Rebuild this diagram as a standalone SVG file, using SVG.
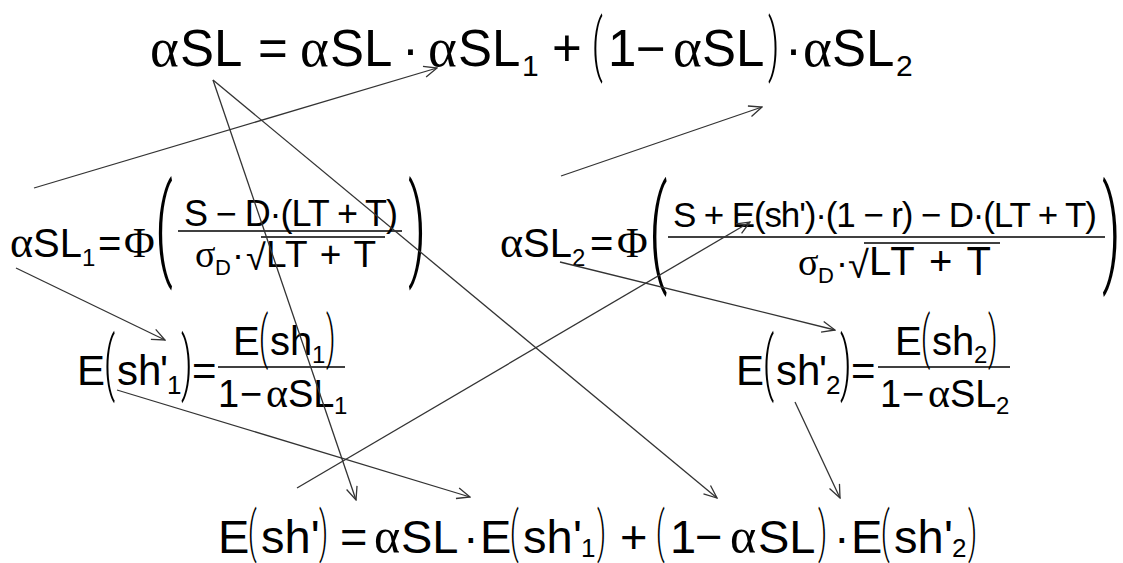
<svg xmlns="http://www.w3.org/2000/svg" width="1123" height="563" viewBox="0 0 1123 563">
<style>
text{font-family:"Liberation Sans",Arial,sans-serif;fill:#000}
.g{font-family:"Liberation Serif","Times New Roman",serif}
.p{font-family:Roboto,"Liberation Sans",Arial,sans-serif;font-weight:300}
.ln{stroke:#333;stroke-width:1.3;fill:none;marker-end:url(#ah)}
.bar{stroke:#000;stroke-width:1.6}
.ov{stroke:#000;stroke-width:1.3}
</style>
<defs>
<marker id="ah" markerWidth="15" markerHeight="13" refX="14" refY="6.5" orient="auto" markerUnits="userSpaceOnUse">
<path d="M1,1 L14,6.5 L1,12" fill="none" stroke="#333" stroke-width="1.3"/>
</marker>
</defs>
<rect width="1123" height="563" fill="#fff"/>

<g id="eq-top" font-size="51">
<text class="g" x="150" y="66" font-size="55">α</text><text x="180" y="66">SL</text>
<text x="258" y="66">=</text>
<text class="g" x="300" y="66" font-size="55">α</text><text x="330" y="66">SL</text>
<text x="402" y="66">·</text>
<text class="g" x="428" y="66" font-size="55">α</text><text x="458" y="66">SL</text><text x="522" y="76" font-size="30">1</text>
<text x="552" y="66">+</text>
<text class="p" transform="translate(592,68) scale(0.5,1)" font-size="68">(</text>
<text x="608" y="66">1</text><text x="636" y="66">−</text>
<text class="g" x="673" y="66" font-size="55">α</text><text x="702" y="66">SL</text>
<text class="p" transform="translate(768,68) scale(0.5,1)" font-size="68">)</text>
<text x="785" y="66">·</text>
<text class="g" x="803" y="66" font-size="55">α</text><text x="832" y="66">SL</text><text x="896" y="76" font-size="30">2</text>
</g>

<g id="eq-asl1" font-size="40">
<text class="g" x="10" y="257" font-size="44">α</text><text x="33" y="257">SL</text><text x="82" y="266" font-size="24">1</text>
<text x="98" y="257">=</text>
<text class="g" x="124" y="257" font-size="42">Φ</text>
<text class="p" transform="translate(155,265) scale(0.5,1)" font-size="112">(</text>
<text x="184" y="226" font-size="36" textLength="214" lengthAdjust="spacing">S − D·(LT + T)</text>
<line class="bar" x1="178" y1="231" x2="402" y2="231"/>
<text class="g" x="195" y="267" font-size="38">σ</text><text x="215" y="275" font-size="22">D</text>
<text x="232" y="267" font-size="36">·</text>
<text x="246" y="270" font-size="36">√</text>
<line class="ov" x1="261" y1="237" x2="385" y2="237"/>
<text x="266" y="267" font-size="37" textLength="110" lengthAdjust="spacing">LT + T</text>
<text class="p" transform="translate(408,265) scale(0.5,1)" font-size="112">)</text>
</g>

<g id="eq-asl2" font-size="40">
<text class="g" x="500" y="257" font-size="44">α</text><text x="523" y="257">SL</text><text x="572" y="266" font-size="24">2</text>
<text x="590" y="257">=</text>
<text class="g" x="617" y="257" font-size="42">Φ</text>
<text class="p" transform="translate(649,270) scale(0.5,1)" font-size="116">(</text>
<text x="673" y="227" font-size="35" textLength="424" lengthAdjust="spacing">S + E(sh')·(1 − r) − D·(LT + T)</text>
<line class="bar" x1="668" y1="237" x2="1105" y2="237"/>
<text class="g" x="798" y="275" font-size="38">σ</text><text x="818" y="283" font-size="22">D</text>
<text x="836" y="275" font-size="36">·</text>
<text x="848" y="278" font-size="38">√</text>
<line class="ov" x1="864" y1="243" x2="1000" y2="243"/>
<text x="869" y="275" font-size="40" textLength="122" lengthAdjust="spacing">LT + T</text>
<text class="p" transform="translate(1102,270) scale(0.5,1)" font-size="116">)</text>
</g>

<g id="eq-esh1" font-size="42">
<text x="77" y="385">E</text>
<text class="p" transform="translate(104,387) scale(0.5,1)" font-size="70">(</text>
<text x="117" y="385">sh</text><text x="160" y="385">'</text><text x="167" y="394" font-size="26">1</text>
<text class="p" transform="translate(181,387) scale(0.5,1)" font-size="70">)</text>
<text x="192" y="385">=</text>
<text x="233" y="355" font-size="40">E</text>
<text class="p" transform="translate(259,357) scale(0.5,1)" font-size="58">(</text>
<text x="270" y="355" font-size="40">sh</text><text x="312" y="363" font-size="24">1</text>
<text class="p" transform="translate(326,357) scale(0.5,1)" font-size="58">)</text>
<line class="bar" x1="218" y1="367" x2="345" y2="367"/>
<text x="218" y="407" font-size="38">1</text><text x="240" y="407" font-size="38">−</text>
<text class="g" x="266" y="407" font-size="42">α</text><text x="288" y="407" font-size="38">SL</text><text x="334" y="414" font-size="24">1</text>
</g>

<g id="eq-esh2" font-size="42">
<text x="736" y="385">E</text>
<text class="p" transform="translate(763,387) scale(0.5,1)" font-size="70">(</text>
<text x="776" y="385">sh</text><text x="819" y="385">'</text><text x="826" y="394" font-size="26">2</text>
<text class="p" transform="translate(840,387) scale(0.5,1)" font-size="70">)</text>
<text x="851" y="385">=</text>
<text x="895" y="355" font-size="40">E</text>
<text class="p" transform="translate(921,357) scale(0.5,1)" font-size="58">(</text>
<text x="932" y="355" font-size="40">sh</text><text x="974" y="363" font-size="24">2</text>
<text class="p" transform="translate(988,357) scale(0.5,1)" font-size="58">)</text>
<line class="bar" x1="878" y1="367" x2="1010" y2="367"/>
<text x="880" y="407" font-size="38">1</text><text x="902" y="407" font-size="38">−</text>
<text class="g" x="928" y="407" font-size="42">α</text><text x="950" y="407" font-size="38">SL</text><text x="996" y="414" font-size="24">2</text>
</g>

<g id="eq-bottom" font-size="47">
<text x="218" y="553">E</text>
<text class="p" transform="translate(248,551) scale(0.5,1)" font-size="55">(</text>
<text x="261" y="553">sh'</text>
<text class="p" transform="translate(319,551) scale(0.5,1)" font-size="55">)</text>
<text x="340" y="553">=</text>
<text class="g" x="374" y="553" font-size="50">α</text><text x="401" y="553">SL</text>
<text x="463" y="553">·</text>
<text x="480" y="553">E</text>
<text class="p" transform="translate(510,551) scale(0.5,1)" font-size="55">(</text>
<text x="523" y="553">sh</text><text x="573" y="553">'</text><text x="581" y="557" font-size="26">1</text>
<text class="p" transform="translate(597,551) scale(0.5,1)" font-size="55">)</text>
<text x="620" y="553">+</text>
<text class="p" transform="translate(656,551) scale(0.5,1)" font-size="55">(</text>
<text x="670" y="553">1</text><text x="695" y="553">−</text>
<text class="g" x="730" y="553" font-size="50">α</text><text x="758" y="553">SL</text>
<text class="p" transform="translate(818,551) scale(0.5,1)" font-size="55">)</text>
<text x="834" y="553">·</text>
<text x="851" y="553">E</text>
<text class="p" transform="translate(881,551) scale(0.5,1)" font-size="55">(</text>
<text x="894" y="553">sh</text><text x="944" y="553">'</text><text x="952" y="557" font-size="26">2</text>
<text class="p" transform="translate(968,551) scale(0.5,1)" font-size="55">)</text>
</g>

<g id="connectors">
<line class="ln" x1="34" y1="188" x2="437" y2="68"/>
<line class="ln" x1="561" y1="176" x2="762" y2="107"/>
<line class="ln" x1="213" y1="80" x2="356" y2="500"/>
<line class="ln" x1="213" y1="80" x2="717" y2="498"/>
<line class="ln" x1="16" y1="268" x2="165" y2="340"/>
<line class="ln" x1="117" y1="390" x2="470" y2="497"/>
<line class="ln" x1="297" y1="488" x2="750" y2="222"/>
<line class="ln" x1="560" y1="262" x2="835" y2="330"/>
<line class="ln" x1="795" y1="402" x2="840" y2="498"/>
</g>
</svg>
